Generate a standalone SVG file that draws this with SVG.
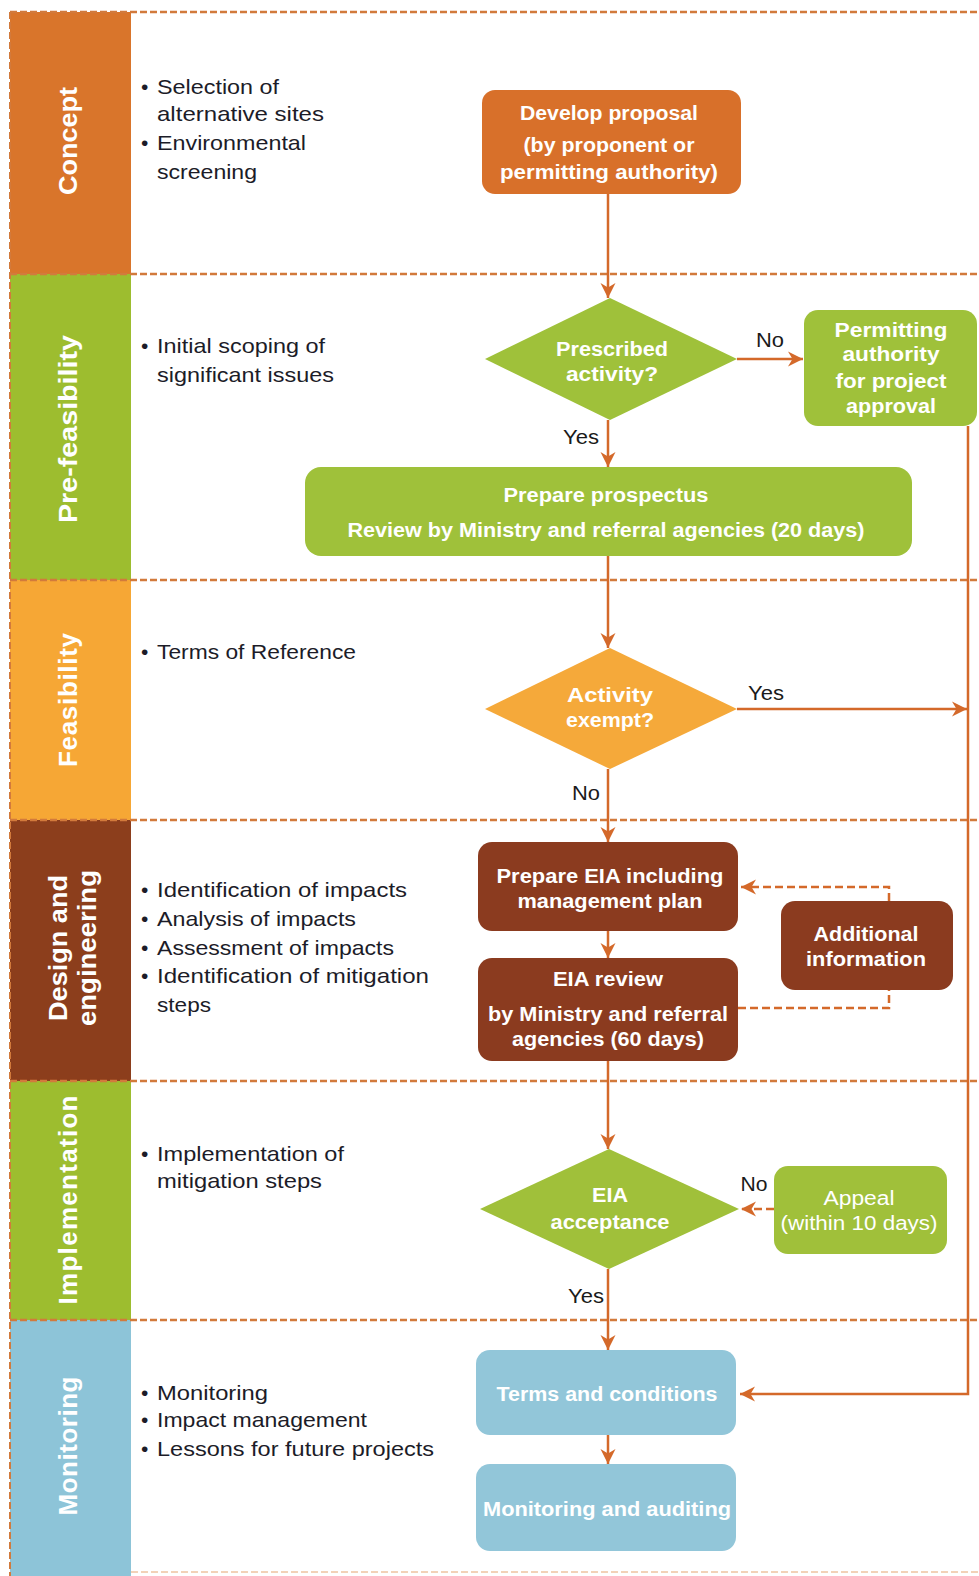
<svg xmlns="http://www.w3.org/2000/svg" width="979" height="1576" viewBox="0 0 979 1576">
<style>
text{font-family:"Liberation Sans",Arial,sans-serif}
.band{font-size:26px;font-weight:bold;fill:#fff;text-anchor:middle}
.bul{font-size:21px;fill:#1c1c28}
.nt{font-size:19.5px;font-weight:bold;fill:#fff;text-anchor:middle}
.lbl{font-size:20px;fill:#1a1a1a;text-anchor:middle}
.sep{stroke:#d27a3c;stroke-width:2.5;stroke-dasharray:7 3;fill:none}
.con{stroke:#d4692a;stroke-width:2.5;fill:none}
.dcon{stroke:#d4692a;stroke-width:2.5;fill:none;stroke-dasharray:8 4}
</style>
<defs>
<marker id="ah" viewBox="0 0 10 10" refX="10" refY="5" markerUnits="userSpaceOnUse" markerWidth="15" markerHeight="16" orient="auto">
<path d="M0,0 L10,5 L0,10 L3,5 z" fill="#d4692a"/>
</marker>
</defs>
<rect width="979" height="1576" fill="#fff"/>

<g id="bands">
<rect x="10" y="12" width="121" height="262" fill="#d9752b"/>
<rect x="10" y="274" width="121" height="306" fill="#9dbd2f"/>
<rect x="10" y="580" width="121" height="240" fill="#f6a735"/>
<rect x="10" y="820" width="121" height="261" fill="#8c3e1c"/>
<rect x="10" y="1081" width="121" height="239" fill="#9dbd2f"/>
<rect x="10" y="1320" width="121" height="256" fill="#8dc4d8"/>
<text class="band" transform="translate(68,141) rotate(-90)" dy=".35em" textLength="108" lengthAdjust="spacingAndGlyphs">Concept</text>
<text class="band" transform="translate(68,429) rotate(-90)" dy=".35em" textLength="188" lengthAdjust="spacingAndGlyphs">Pre-feasibility</text>
<text class="band" transform="translate(68,700) rotate(-90)" dy=".35em" textLength="134" lengthAdjust="spacing">Feasibility</text>
<text class="band" transform="translate(58,948) rotate(-90)" dy=".35em" textLength="146" lengthAdjust="spacingAndGlyphs">Design and</text>
<text class="band" transform="translate(87,948) rotate(-90)" dy=".35em" textLength="156" lengthAdjust="spacingAndGlyphs">engineering</text>
<text class="band" transform="translate(68,1200) rotate(-90)" dy=".35em" textLength="209" lengthAdjust="spacing">Implementation</text>
<text class="band" transform="translate(68,1446) rotate(-90)" dy=".35em" textLength="139" lengthAdjust="spacing">Monitoring</text>
</g>

<g id="separators">
<line class="sep" x1="10" y1="12" x2="979" y2="12"/>
<line class="sep" x1="10" y1="274" x2="979" y2="274"/>
<line class="sep" x1="10" y1="580" x2="979" y2="580"/>
<line class="sep" x1="10" y1="820" x2="979" y2="820"/>
<line class="sep" x1="10" y1="1081" x2="979" y2="1081"/>
<line class="sep" x1="10" y1="1320" x2="979" y2="1320"/>
<line class="sep" x1="131" y1="1572" x2="979" y2="1572" style="stroke:#f2d2b8;stroke-width:2"/>
<line class="sep" x1="10" y1="12" x2="10" y2="1576" style="stroke-width:2"/>
</g>

<g id="bullets">
<text class="bul"><tspan x="141" y="94">•</tspan><tspan x="157" y="94" textLength="122" lengthAdjust="spacingAndGlyphs">Selection of</tspan></text>
<text class="bul" x="157" y="121" textLength="167" lengthAdjust="spacingAndGlyphs">alternative sites</text>
<text class="bul"><tspan x="141" y="150">•</tspan><tspan x="157" y="150" textLength="149" lengthAdjust="spacingAndGlyphs">Environmental</tspan></text>
<text class="bul" x="157" y="179" textLength="100" lengthAdjust="spacingAndGlyphs">screening</text>

<text class="bul"><tspan x="141" y="353">•</tspan><tspan x="157" y="353" textLength="168" lengthAdjust="spacingAndGlyphs">Initial scoping of</tspan></text>
<text class="bul" x="157" y="382" textLength="177" lengthAdjust="spacingAndGlyphs">significant issues</text>

<text class="bul"><tspan x="141" y="659">•</tspan><tspan x="157" y="659" textLength="199" lengthAdjust="spacingAndGlyphs">Terms of Reference</tspan></text>

<text class="bul"><tspan x="141" y="897">•</tspan><tspan x="157" y="897" textLength="250" lengthAdjust="spacingAndGlyphs">Identification of impacts</tspan></text>
<text class="bul"><tspan x="141" y="926">•</tspan><tspan x="157" y="926" textLength="199" lengthAdjust="spacingAndGlyphs">Analysis of impacts</tspan></text>
<text class="bul"><tspan x="141" y="955">•</tspan><tspan x="157" y="955" textLength="237" lengthAdjust="spacingAndGlyphs">Assessment of impacts</tspan></text>
<text class="bul"><tspan x="141" y="983">•</tspan><tspan x="157" y="983" textLength="272" lengthAdjust="spacingAndGlyphs">Identification of mitigation</tspan></text>
<text class="bul" x="157" y="1012" textLength="54" lengthAdjust="spacingAndGlyphs">steps</text>

<text class="bul"><tspan x="141" y="1161">•</tspan><tspan x="157" y="1161" textLength="187" lengthAdjust="spacingAndGlyphs">Implementation of</tspan></text>
<text class="bul" x="157" y="1188" textLength="165" lengthAdjust="spacingAndGlyphs">mitigation steps</text>

<text class="bul"><tspan x="141" y="1400">•</tspan><tspan x="157" y="1400" textLength="111" lengthAdjust="spacingAndGlyphs">Monitoring</tspan></text>
<text class="bul"><tspan x="141" y="1427">•</tspan><tspan x="157" y="1427" textLength="210" lengthAdjust="spacingAndGlyphs">Impact management</tspan></text>
<text class="bul"><tspan x="141" y="1456">•</tspan><tspan x="157" y="1456" textLength="277" lengthAdjust="spacingAndGlyphs">Lessons for future projects</tspan></text>
</g>

<g id="connectors">
<line class="con" x1="608" y1="194" x2="608" y2="298" marker-end="url(#ah)"/>
<line class="con" x1="737" y1="359" x2="803" y2="359" marker-end="url(#ah)"/>
<line class="con" x1="608" y1="420" x2="608" y2="467" marker-end="url(#ah)"/>
<line class="con" x1="608" y1="556" x2="608" y2="648" marker-end="url(#ah)"/>
<line class="con" x1="737" y1="709" x2="967" y2="709" marker-end="url(#ah)"/>
<line class="con" x1="608" y1="769" x2="608" y2="842" marker-end="url(#ah)"/>
<line class="con" x1="608" y1="931" x2="608" y2="958" marker-end="url(#ah)"/>
<line class="con" x1="608" y1="1061" x2="608" y2="1149" marker-end="url(#ah)"/>
<line class="con" x1="608" y1="1269" x2="608" y2="1350" marker-end="url(#ah)"/>
<line class="con" x1="608" y1="1435" x2="608" y2="1464" marker-end="url(#ah)"/>
<polyline class="con" points="968,426 968,1394 740,1394" marker-end="url(#ah)"/>
<polyline class="dcon" points="889,901 889,887 741,887" marker-end="url(#ah)"/>
<polyline class="dcon" points="738,1008 889,1008 889,990"/>
<line class="dcon" x1="774" y1="1209" x2="741" y2="1209" marker-end="url(#ah)"/>
<text class="lbl" x="770" y="347" textLength="28" lengthAdjust="spacingAndGlyphs">No</text>
<text class="lbl" x="581" y="444" textLength="36" lengthAdjust="spacingAndGlyphs">Yes</text>
<text class="lbl" x="766" y="700" textLength="36" lengthAdjust="spacingAndGlyphs">Yes</text>
<text class="lbl" x="586" y="800" textLength="28" lengthAdjust="spacingAndGlyphs">No</text>
<text class="lbl" x="754" y="1191" textLength="27" lengthAdjust="spacingAndGlyphs">No</text>
<text class="lbl" x="586" y="1303" textLength="36" lengthAdjust="spacingAndGlyphs">Yes</text>
</g>

<g id="develop">
<rect x="482" y="90" width="259" height="104" rx="13" fill="#d8702a"/>
<text class="nt" x="609" y="120" textLength="178" lengthAdjust="spacingAndGlyphs">Develop proposal</text>
<text class="nt" x="609" y="152" textLength="171" lengthAdjust="spacingAndGlyphs">(by proponent or</text>
<text class="nt" x="609" y="179" textLength="218" lengthAdjust="spacingAndGlyphs">permitting authority)</text>
</g>

<g id="prescribed">
<polygon points="485,359 610,298 737,359 610,420" fill="#9fc13a"/>
<text class="nt" x="612" y="356" textLength="112" lengthAdjust="spacingAndGlyphs">Prescribed</text>
<text class="nt" x="612" y="381" textLength="92" lengthAdjust="spacingAndGlyphs">activity?</text>
</g>

<g id="permitting">
<rect x="804" y="310" width="173" height="116" rx="14" fill="#9fc13a"/>
<text class="nt" x="891" y="337" textLength="113" lengthAdjust="spacingAndGlyphs">Permitting</text>
<text class="nt" x="891" y="361" textLength="97" lengthAdjust="spacingAndGlyphs">authority</text>
<text class="nt" x="891" y="388" textLength="111" lengthAdjust="spacingAndGlyphs">for project</text>
<text class="nt" x="891" y="413" textLength="90" lengthAdjust="spacingAndGlyphs">approval</text>
</g>

<g id="prospectus">
<rect x="305" y="467" width="607" height="89" rx="16" fill="#9fc13a"/>
<text class="nt" x="606" y="502" textLength="205" lengthAdjust="spacingAndGlyphs">Prepare prospectus</text>
<text class="nt" x="606" y="537" textLength="517" lengthAdjust="spacingAndGlyphs">Review by Ministry and referral agencies (20 days)</text>
</g>

<g id="exempt">
<polygon points="485,709 610,648 737,709 610,769" fill="#f5a93a"/>
<text class="nt" x="610" y="702" textLength="86" lengthAdjust="spacingAndGlyphs">Activity</text>
<text class="nt" x="610" y="727" textLength="88" lengthAdjust="spacingAndGlyphs">exempt?</text>
</g>

<g id="prepare-eia">
<rect x="478" y="842" width="260" height="89" rx="14" fill="#8b3b1f"/>
<text class="nt" x="610" y="883" textLength="227" lengthAdjust="spacingAndGlyphs">Prepare EIA including</text>
<text class="nt" x="610" y="908" textLength="185" lengthAdjust="spacingAndGlyphs">management plan</text>
</g>

<g id="eia-review">
<rect x="478" y="958" width="260" height="103" rx="14" fill="#8b3b1f"/>
<text class="nt" x="608" y="986" textLength="110" lengthAdjust="spacingAndGlyphs">EIA review</text>
<text class="nt" x="608" y="1021" textLength="240" lengthAdjust="spacingAndGlyphs">by Ministry and referral</text>
<text class="nt" x="608" y="1046" textLength="192" lengthAdjust="spacingAndGlyphs">agencies (60 days)</text>
</g>

<g id="additional">
<rect x="781" y="901" width="172" height="89" rx="14" fill="#8b3b1f"/>
<text class="nt" x="866" y="941" textLength="105" lengthAdjust="spacingAndGlyphs">Additional</text>
<text class="nt" x="866" y="966" textLength="120" lengthAdjust="spacingAndGlyphs">information</text>
</g>

<g id="acceptance">
<polygon points="480,1209 609,1149 739,1209 609,1269" fill="#a0c03a"/>
<text class="nt" x="610" y="1202" textLength="36" lengthAdjust="spacingAndGlyphs">EIA</text>
<text class="nt" x="610" y="1229" textLength="119" lengthAdjust="spacingAndGlyphs">acceptance</text>
</g>

<g id="appeal">
<rect x="774" y="1166" width="173" height="88" rx="14" fill="#a0c03a"/>
<text class="nt" x="859" y="1205" textLength="71" lengthAdjust="spacingAndGlyphs" style="font-weight:normal">Appeal</text>
<text class="nt" x="859" y="1230" textLength="157" lengthAdjust="spacingAndGlyphs" style="font-weight:normal">(within 10 days)</text>
</g>

<g id="terms">
<rect x="476" y="1350" width="260" height="85" rx="14" fill="#92c6d9"/>
<text class="nt" x="607" y="1401" textLength="221" lengthAdjust="spacingAndGlyphs">Terms and conditions</text>
</g>

<g id="monitoring-auditing">
<rect x="476" y="1464" width="260" height="87" rx="14" fill="#92c6d9"/>
<text class="nt" x="607" y="1516" textLength="248" lengthAdjust="spacingAndGlyphs">Monitoring and auditing</text>
</g>
</svg>
